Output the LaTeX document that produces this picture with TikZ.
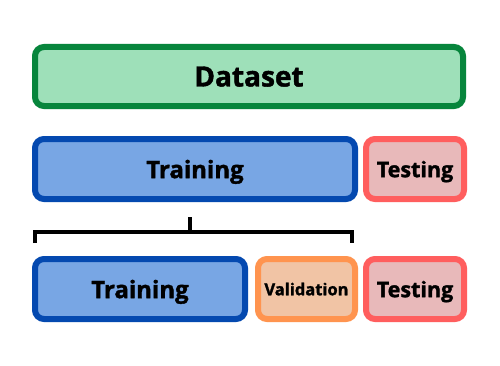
\documentclass[tikz,border=0pt]{standalone}
\usepackage{fontspec}
\setmainfont{Open Sans}[BoldFeatures={FakeBold=1.5}]
\usepackage{tikz}
\usetikzlibrary{positioning, calc}
\definecolor{dsfill}{HTML}{9EE0B9}
\definecolor{dsdraw}{HTML}{07853C}
\definecolor{trfill}{HTML}{78A6E4}
\definecolor{trdraw}{HTML}{0449B0}
\definecolor{tefill}{HTML}{E8B9BA}
\definecolor{tedraw}{HTML}{FF5E5E}
\definecolor{vafill}{HTML}{F1C4A5}
\definecolor{vadraw}{HTML}{FF944F}
\tikzset{
  part/.style={draw, line width=6pt, rounded corners=9pt, minimum height=60pt, inner sep=0pt, text depth=0pt, align=center, font=\bfseries\fontsize{24}{27}\selectfont},
  whole/.style={part, fill=dsfill, draw=dsdraw, minimum height=59pt, font=\bfseries\fontsize{28}{31}\selectfont},
  train/.style={part, fill=trfill, draw=trdraw},
  test/.style={part, fill=tefill, draw=tedraw, minimum width=98pt, font=\bfseries\fontsize{21.5}{24}\selectfont},
  valid/.style={part, fill=vafill, draw=vadraw, minimum width=97pt, font=\bfseries\fontsize{16.5}{19}\selectfont},
  brace/.style={line width=4pt, line join=miter}
}
\begin{document}
\begin{tikzpicture}[x=1pt, y=1pt]
\useasboundingbox[fill=white] (0,0) rectangle (500,365);
\node[whole, minimum width=428pt] (data) at (249,288.5) {Dataset};
\node[train, minimum width=320pt] (train2) at (195,196) {Training};
\node[test] (test2) at (415,196) {Testing};
\node[train, minimum width=210pt] (train3) at (140,76) {Training};
\node[valid] (valid) at (306.5,76) {Validation};
\node[test] (test3) at (415,76) {Testing};
% bracket between the two rows
\coordinate (bl) at (35,122);
\coordinate (br) at (352,122);
\coordinate (bm) at (190,133);
\coordinate (bt) at (190,148);
\draw[brace] (bl) |- (bm) -| (br);
\draw[brace] (bm) -- (bt);
\end{tikzpicture}
\end{document}
